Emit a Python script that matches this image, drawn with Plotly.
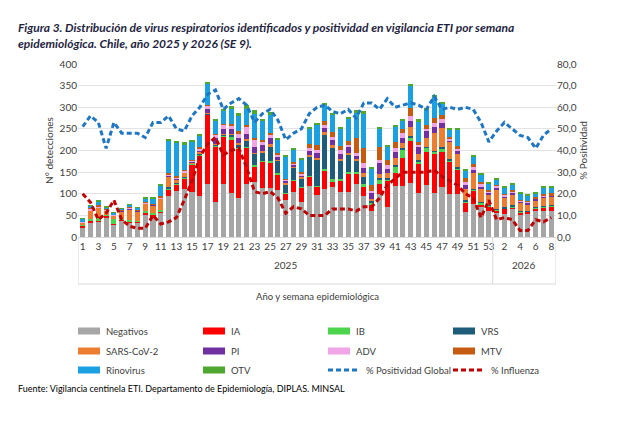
import plotly.graph_objects as go

weeks_2025 = [str(w) for w in range(1, 54)]
weeks_2026 = [str(w) for w in range(1, 9)]
weeks = weeks_2025 + weeks_2026

negativos = [21, 34, 36, 46, 30, 38, 34, 34, 53, 43, 57, 95, 107, 110, 103, 95, 123, 80, 123, 101,
             91, 122, 128, 114, 114, 108, 85, 105, 80, 118, 97, 110, 116, 105, 103, 123, 95, 61, 99, 69,
             118, 118, 126, 101, 120, 101, 116, 99, 99, 57, 76, 70, 61,
             57, 53, 65, 53, 53, 61, 61, 59]
ia = [5, 3, 3, 3, 1, 2, 2, 2, 3, 10, 3, 15, 15, 25, 65, 94, 160, 130, 109, 124,
      113, 84, 36, 60, 59, 37, 15, 25, 34, 21, 19, 42, 12, 26, 42, 22, 20, 15, 24, 62,
      31, 65, 95, 68, 76, 91, 80, 76, 57, 23, 31, 6, 9,
      4, 12, 3, 3, 5, 6, 8, 11]
ib = [2, 4, 4, 2, 10, 2, 3, 2, 3, 3, 3, 3, 2, 2, 1, 1, 1, 1, 2, 8,
      2, 2, 3, 2, 2, 2, 2, 2, 2, 2, 3, 6, 5, 2, 6, 5, 8, 2, 8, 3,
      15, 20, 10, 5, 10, 5, 8, 3, 3, 3, 3, 3, 2,
      2, 2, 3, 2, 2, 2, 2, 2]
vrs = [0, 0, 0, 0, 0, 0, 0, 0, 0, 0, 0, 2, 2, 1, 1, 1, 1, 3, 3, 3,
       8, 15, 25, 20, 35, 30, 20, 28, 20, 45, 60, 80, 75, 45, 40, 25, 15, 5, 5, 3,
       3, 3, 3, 3, 3, 3, 3, 2, 2, 2, 2, 2, 2,
       2, 2, 2, 1, 1, 1, 1, 1]
sars = [5, 20, 25, 10, 8, 18, 25, 22, 18, 17, 25, 25, 8, 10, 3, 5, 2, 2, 2, 2,
        4, 4, 2, 2, 4, 2, 2, 2, 2, 3, 3, 4, 4, 3, 4, 5, 10, 5, 10, 10,
        15, 12, 20, 15, 20, 40, 45, 40, 30, 25, 35, 30, 25,
        45, 22, 25, 20, 15, 15, 20, 20]
pi = [1, 1, 1, 1, 1, 1, 2, 1, 1, 1, 2, 2, 2, 2, 2, 5, 8, 12, 10, 12,
      10, 12, 15, 14, 14, 8, 6, 5, 5, 10, 12, 10, 12, 12, 12, 8, 12, 15, 25, 10,
      15, 12, 15, 15, 15, 15, 12, 4, 8, 10, 8, 5, 3,
      3, 2, 3, 2, 3, 3, 2, 2]
adv = [1, 3, 2, 1, 1, 1, 3, 1, 1, 1, 2, 3, 2, 3, 2, 3, 8, 8, 10, 8,
       12, 15, 15, 8, 8, 4, 2, 3, 4, 6, 7, 8, 8, 8, 6, 6, 10, 3, 8, 10,
       8, 10, 10, 5, 5, 8, 8, 3, 4, 8, 6, 6, 3,
       5, 5, 5, 3, 2, 2, 2, 2]
mtv = [0, 1, 2, 1, 1, 1, 1, 1, 1, 1, 2, 4, 2, 2, 2, 4, 2, 2, 3, 4,
       4, 5, 5, 5, 5, 3, 3, 3, 3, 10, 12, 8, 10, 10, 10, 35, 35, 15, 30, 10,
       15, 10, 20, 8, 10, 12, 10, 4, 8, 8, 8, 5, 4,
       3, 2, 3, 2, 2, 3, 3, 4]
rino = [7, 7, 10, 5, 4, 2, 5, 5, 10, 13, 25, 74, 78, 60, 42, 26, 48, 32, 30, 36,
        38, 38, 56, 43, 42, 32, 50, 30, 30, 36, 47, 38, 41, 40, 50, 60, 80, 38, 42, 32,
        35, 20, 50, 48, 35, 50, 26, 18, 38, 17, 18, 17, 15,
        12, 14, 13, 15, 14, 8, 15, 13]
otv = [1, 1, 1, 1, 1, 1, 1, 1, 3, 2, 3, 3, 3, 4, 4, 4, 5, 4, 5, 4,
       4, 8, 8, 6, 5, 3, 3, 3, 3, 4, 4, 4, 4, 4, 5, 4, 6, 3, 4, 3,
       3, 4, 5, 4, 3, 3, 3, 2, 2, 2, 3, 2, 2,
       2, 2, 2, 2, 2, 2, 2, 2]

pct_positividad = [51, 56, 53, 41, 53, 48, 48, 48, 46, 53, 53, 56, 50, 49, 56, 60, 66, 68, 59, 62,
                   64, 61, 53, 57, 59, 54, 45, 48, 50, 57, 60, 61, 58, 57, 59, 55, 62, 62, 59, 64,
                   60, 61, 62, 61, 59, 65, 59, 60, 59, 60, 59, 53, 44,
                   49, 53, 50, 47, 46, 41, 47, 50]
pct_influenza = [20, 16, 8, 11, 17, 8, 5, 4, 4, 10, 6, 7, 9, 17, 26, 37, 43, 46, 38, 40,
                 41, 32, 21, 20, 21, 18, 11, 14, 13, 10, 10, 10, 13, 13, 13, 12, 14, 14, 18, 24,
                 27, 30, 30, 30, 30, 31, 28, 26, 24, 20, 18, 9, 17,
                 8, 9, 8, 3, 3, 8, 7, 9]

series = [
    ("Negativos", negativos, "#A6A6A6"),
    ("IA", ia, "#FF0000"),
    ("IB", ib, "#4CD44C"),
    ("VRS", vrs, "#1F5C7A"),
    ("SARS-CoV-2", sars, "#ED7D31"),
    ("PI", pi, "#7030A0"),
    ("ADV", adv, "#F2A5E6"),
    ("MTV", mtv, "#C55A11"),
    ("Rinovirus", rino, "#1BA1E2"),
    ("OTV", otv, "#4EA72E"),
]
line_series = [
    ("% Positividad Global", pct_positividad, "#1F77C4"),
    ("% Influenza", pct_influenza, "#C00000"),
]

x = list(range(len(weeks)))
font = "Lato, Open Sans, sans-serif"
dash = "5px,3px"

fig = go.Figure()
for name, vals, color in series:
    fig.add_bar(x=x, y=vals, name=name, marker_color=color, marker_line_width=0)
for name, vals, color in line_series:
    fig.add_scatter(x=x, y=vals, name=name, yaxis="y2", mode="lines",
                    line=dict(color=color, width=3, dash=dash))

tickvals = [i for i in x if int(weeks[i]) % 2 == 1 and i < 53] + [i for i in x if i >= 53 and int(weeks[i]) % 2 == 0]
fig.update_layout(
    width=631, height=425,
    barmode="stack", bargap=0.35,
    paper_bgcolor="white", plot_bgcolor="white",
    separators=",.",
    showlegend=False,
    font=dict(family=font, size=10, color="#404040"),
    margin=dict(l=70, r=83, t=56, b=196, autoexpand=False),
    xaxis=dict(tickvals=tickvals, ticktext=[weeks[i] for i in tickvals], tickangle=0,
               range=[-0.6, len(x) - 0.4], showline=True, linecolor="#D9D9D9", ticks="",
               tickfont=dict(size=10, color="#404040")),
    yaxis=dict(range=[0, 400], dtick=50, gridcolor="#E3E3E3", zeroline=False,
               title=dict(text="N° detecciones", font=dict(size=10), standoff=4)),
    yaxis2=dict(range=[0, 80], dtick=10, overlaying="y", side="right", showgrid=False,
                tickformat=".1f",
                title=dict(text="% Positividad", font=dict(size=10), standoff=4)),
)

def px2paper(px, py):
    return (px - 70) / 478, (229 - py) / 173

# title
tx, ty = px2paper(8, 10)
fig.add_annotation(x=tx, y=ty, xref="paper", yref="paper", xanchor="left", yanchor="top", align="left",
                   text="<b><i>Figura 3. Distribución de virus respiratorios identificados y positividad en vigilancia ETI por semana<br>epidemiológica. Chile, año 2025 y 2026 (SE 9).</i></b>",
                   showarrow=False, font=dict(size=12, color="#1F1F3F"))

# year group labels and frame
fig.add_annotation(x=26, y=px2paper(0, 265)[1], xref="x", yref="paper", text="2025", showarrow=False)
fig.add_annotation(x=56.5, y=px2paper(0, 265)[1], xref="x", yref="paper", text="2026", showarrow=False)
fig.add_annotation(x=0.5, y=px2paper(0, 296)[1], xref="paper", yref="paper", text="Año y semana epidemiológica",
                   showarrow=False, font=dict(size=9.5))
yb = px2paper(0, 276)[1]
for xv in [-0.6, 52.5, len(x) - 0.4]:
    fig.add_shape(type="line", xref="x", yref="paper", x0=xv, x1=xv, y0=0, y1=yb,
                  line=dict(color="#D9D9D9", width=1))
fig.add_shape(type="line", xref="x", yref="paper", x0=-0.6, x1=len(x) - 0.4, y0=yb, y1=yb,
              line=dict(color="#D9D9D9", width=1))

# legend drawn by hand, 4 columns as in the original
items = [(n, c, "bar") for n, _, c in series] + [(n, c, "line") for n, _, c in line_series]
cols = [70, 195, 320, 445]
rows = [323, 343, 362]
for k, (name, color, kind) in enumerate(items):
    cx, ry = cols[k % 4], rows[k // 4]
    if kind == "bar":
        x0, y0 = px2paper(cx, ry - 3.5)
        x1, y1 = px2paper(cx + 22, ry + 3.5)
        fig.add_shape(type="rect", xref="paper", yref="paper", x0=x0, x1=x1, y0=y0, y1=y1,
                      fillcolor=color, line_width=0)
        lx, ly = px2paper(cx + 26, ry)
    else:
        x0, y0 = px2paper(cx, ry)
        x1, _ = px2paper(cx + 32, ry)
        fig.add_shape(type="line", xref="paper", yref="paper", x0=x0, x1=x1, y0=y0, y1=y0,
                      line=dict(color=color, width=3, dash=dash))
        lx, ly = px2paper(cx + 36, ry)
    fig.add_annotation(x=lx, y=ly, xref="paper", yref="paper", xanchor="left", yanchor="middle",
                       text=name, showarrow=False, font=dict(size=9.5, color="#404040"))

fx, fy = px2paper(8, 388)
fig.add_annotation(x=fx, y=fy, xref="paper", yref="paper", xanchor="left",
                   text="Fuente: Vigilancia centinela ETI. Departamento de Epidemiología, DIPLAS. MINSAL",
                   showarrow=False, font=dict(size=9, color="#000000"))

fig.write_html("out.html")
